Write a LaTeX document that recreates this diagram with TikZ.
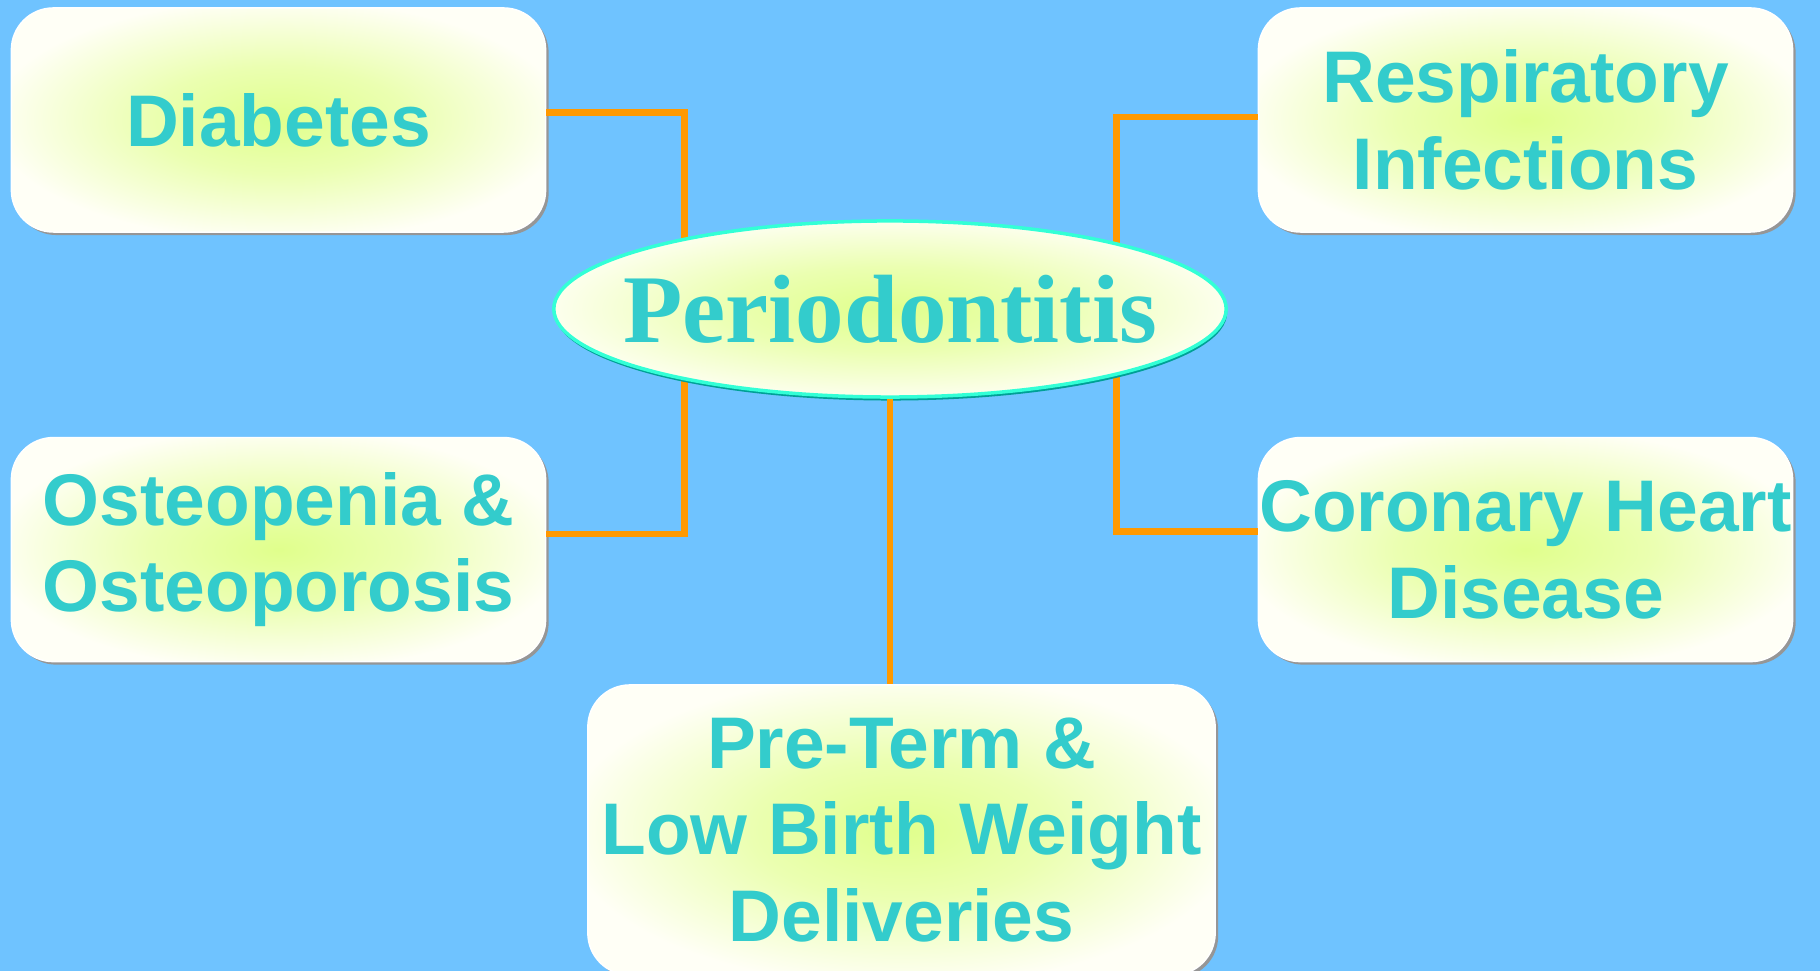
\documentclass[tikz,border=0pt]{standalone}
\usepackage{fontspec}
\setmainfont{Liberation Serif}
\setsansfont{Liberation Sans}
\usetikzlibrary{shapes.geometric,shadows}
\definecolor{skyblue}{RGB}{111,195,255}
\definecolor{linkorange}{RGB}{255,153,0}
\definecolor{labelteal}{RGB}{51,204,204}
\definecolor{boxwhite}{RGB}{255,255,246}
\definecolor{glowlime}{RGB}{224,255,140}
\definecolor{ovalrim}{RGB}{51,255,214}
\definecolor{ovalshade}{RGB}{0,160,150}
\definecolor{boxshade}{RGB}{150,150,150}
\pgfdeclareradialshading{glow}{\pgfpoint{0bp}{0bp}}{%
  color(0bp)=(glowlime); color(12bp)=(glowlime!65!boxwhite);
  color(27bp)=(boxwhite); color(50bp)=(boxwhite)}
\begin{document}
\begin{tikzpicture}[x=0.01cm, y=-0.01cm,
  box/.style={rectangle, rounded corners=0.42cm, shade, shading=glow,
    draw=white, minimum width=5.34cm, minimum height=2.24cm,
    inner sep=0pt, align=center, text=labelteal,
    font=\sffamily\bfseries\fontsize{20.8}{24.6}\selectfont,
    drop shadow={shadow xshift=0.03cm, shadow yshift=-0.03cm,
      fill=boxshade, opacity=1}},
  oval/.style={ellipse, draw=ovalrim, line width=0.035cm, shade,
    shading=glow, minimum width=6.72cm, minimum height=1.76cm,
    inner xsep=-0.3cm, inner ysep=0pt, text=labelteal,
    font=\rmfamily\bfseries\fontsize{27.6}{30}\selectfont,
    drop shadow={shadow xshift=0.01cm, shadow yshift=-0.035cm,
      fill=ovalshade, opacity=1}},
  link/.style={draw=linkorange, line width=0.065cm},
]
\fill[skyblue] (0,0) rectangle (1820,971);
\useasboundingbox (0,0) rectangle (1820,971);

\node[box] (diab) at (278.5,120) {Diabetes};
\node[box] (resp) at (1525.5,120) {Respiratory\\Infections};
\node[box] (osteo) at (278.5,549.6) {Osteopenia \&\\Osteoporosis};
\node[box] (coro) at (1525.5,549.6) {Coronary Heart\\Disease};
\node[box, minimum width=6.27cm, minimum height=2.9cm] (preterm)
  at (901.5,830) {Pre-Term \&\\Low Birth Weight\\Deliveries};

\draw[link] ([yshift=0.075cm]diab.east) -- ++(138,0)
  |- ([yshift=0.155cm]osteo.east);
\draw[link] ([yshift=0.03cm]resp.west) -- ++(-141,0)
  |- ([yshift=0.18cm]coro.west);

\node[oval] (perio) at (890,309) {Periodontitis};

\draw[link] (perio.south) -- (perio.south |- preterm.north);

\end{tikzpicture}
\end{document}
